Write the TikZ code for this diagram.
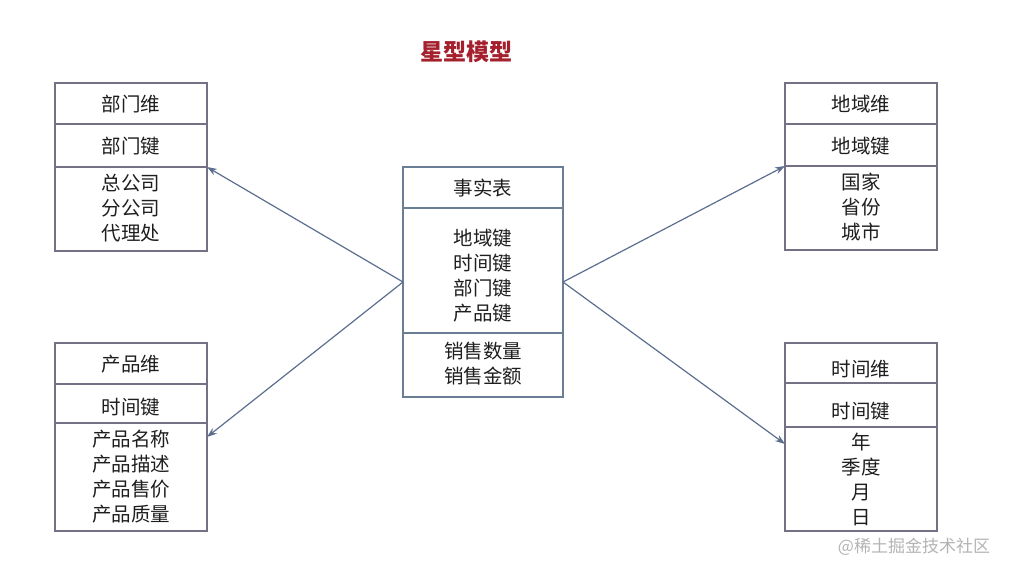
\documentclass[tikz,border=0pt]{standalone}
\usepackage{fontspec}
\setmainfont{Noto Sans CJK SC}
\usetikzlibrary{arrows.meta}
\definecolor{boxgray}{HTML}{727284}
\definecolor{factblue}{HTML}{6A7E96}
\definecolor{arrowblue}{HTML}{5B6F8F}
\definecolor{titlered}{HTML}{A3202C}
\definecolor{txt}{HTML}{1E1E1E}
\definecolor{wmark}{HTML}{B4B4B4}
\newcommand\lowerby[2]{\raisebox{-#1}[\height][\depth]{#2}}
\begin{document}
\begin{tikzpicture}[x=1pt,y=-1pt,
  sec/.style={draw=boxgray, line width=2pt, minimum width=152pt, anchor=north west,
    inner sep=0pt, outer sep=0pt, align=center, text=txt, font=\fontsize{19.5}{25}\selectfont},
  fsec/.style={draw=factblue, line width=2.6pt, minimum width=160pt, anchor=north west,
    inner sep=0pt, outer sep=0pt, align=center, text=txt, font=\fontsize{19.5}{25}\selectfont},
  conn/.style={draw=arrowblue, line width=1.2pt, -{Stealth[length=10pt,width=7pt]}}]
\useasboundingbox[fill=white] (0,0) rectangle (1013,574);

% title
\node[text=titlered, font=\fontsize{23}{26}\selectfont\bfseries] (title) at (466,52) {星型模型};

% department dimension
\node[sec, minimum height=41pt] (deptA) at (55,83) {\lowerby{1pt}{部门维}};
\node[sec, minimum height=43pt] (deptB) at (deptA.south west) {\lowerby{1pt}{部门键}};
\node[sec, minimum height=84pt] (deptC) at (deptB.south west) {\lowerby{1pt}{\begin{tabular}{@{}c@{}}总公司\\分公司\\代理处\end{tabular}}};

% region dimension
\node[sec, minimum height=41pt] (regA) at (785,83) {\lowerby{1pt}{地域维}};
\node[sec, minimum height=42pt] (regB) at (regA.south west) {\lowerby{1pt}{地域键}};
\node[sec, minimum height=84pt] (regC) at (regB.south west) {\lowerby{1pt}{\begin{tabular}{@{}c@{}}国家\\省份\\城市\end{tabular}}};

% product dimension
\node[sec, minimum height=41pt] (prodA) at (55,343) {\lowerby{1pt}{产品维}};
\node[sec, minimum height=39pt] (prodB) at (prodA.south west) {\lowerby{4pt}{时间键}};
\node[sec, minimum height=108pt] (prodC) at (prodB.south west) {产品名称\\产品描述\\产品售价\\产品质量};

% time dimension
\node[sec, minimum height=40pt] (timeA) at (785,343) {\lowerby{6pt}{时间维}};
\node[sec, minimum height=44pt] (timeB) at (timeA.south west) {\lowerby{6pt}{时间键}};
\node[sec, minimum height=104pt] (timeC) at (timeB.south west) {年\\季度\\月\\日};

% fact table
\node[fsec, minimum height=41pt] (factA) at (403,167) {\lowerby{1pt}{事实表}};
\node[fsec, minimum height=125pt] (factB) at (factA.south west) {\lowerby{7pt}{\begin{tabular}{@{}c@{}}地域键\\时间键\\部门键\\产品键\end{tabular}}};
\node[fsec, minimum height=64pt] (factC) at (factB.south west) {\lowerby{1pt}{\begin{tabular}{@{}c@{}}销售数量\\销售金额\end{tabular}}};
\node[draw=factblue, line width=2.6pt, minimum width=160pt, minimum height=230pt, anchor=north west, inner sep=0pt, outer sep=0pt] (fact) at (403,167) {};

% connectors
\draw[conn] (fact.west) -- (deptC.north east);
\draw[conn] (fact.west) -- ([yshift=-14pt]prodC.north east);
\draw[conn] (fact.east) -- (regC.north west);
\draw[conn] (fact.east) -- ([yshift=-17pt]timeC.north west);

% watermark
\node[text=wmark, font=\fontsize{17}{20}\selectfont] (wm) at (914,547) {@稀土掘金技术社区};
\end{tikzpicture}
\end{document}
